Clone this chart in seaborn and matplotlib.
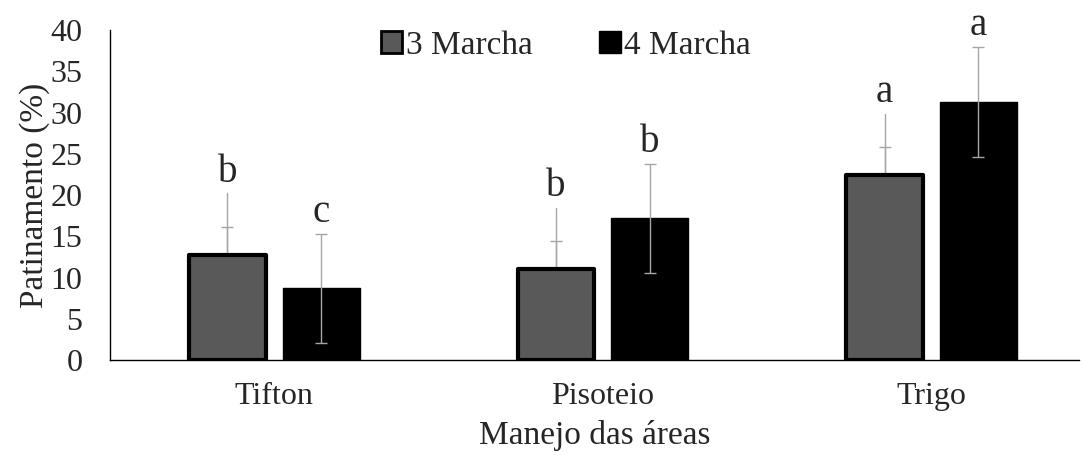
import matplotlib
matplotlib.use("Agg")
import matplotlib.pyplot as plt
import numpy as np
import pandas as pd
import seaborn as sns

categories = ["Tifton", "Pisoteio", "Trigo"]
series = ["3 Marcha", "4 Marcha"]
mean_3 = [12.7, 11.1, 22.4]
mean_4 = [8.7, 17.2, 31.3]
err_3 = [3.4, 3.4, 3.45]
err_4 = [6.6, 6.6, 6.65]
leader_3 = [20.2, 18.5, 29.8]
letters_3 = ["b", "b", "a"]
letters_4 = ["c", "b", "a"]

df = pd.DataFrame({
    "area": categories * 2,
    "marcha": [series[0]] * 3 + [series[1]] * 3,
    "val": mean_3 + mean_4,
})

sns.set_style("white")
plt.rcParams["font.family"] = ["Liberation Serif", "DejaVu Serif"]

fig = plt.figure(figsize=(10.83, 4.57), dpi=100)
ax = fig.add_axes([0.1016, 0.212, 0.895, 0.722])

sns.barplot(data=df, x="area", y="val", hue="marcha", order=categories,
            hue_order=series, palette=["#595959", "#000000"], width=0.57,
            gap=0.18, errorbar=None, ax=ax, zorder=2)

bars = ax.patches[:6]
for i, p in enumerate(bars):
    p.set_edgecolor("black")
    p.set_linewidth(3.0 if i < 3 else 1.0)
    p.set_joinstyle("round")

ecol = "#a6a6a6"
xs3 = [p.get_x() + p.get_width() / 2 for p in bars[:3]]
xs4 = [p.get_x() + p.get_width() / 2 for p in bars[3:6]]

# gray series: error bar sits behind the bar, leader line runs up to the letter
ax.errorbar(xs3, mean_3, yerr=err_3, fmt="none", ecolor=ecol,
            elinewidth=1.0, capsize=4.5, capthick=1.0, zorder=1)
for x, m, top, lt in zip(xs3, mean_3, leader_3, letters_3):
    ax.plot([x, x], [m, top], color=ecol, lw=1.0, zorder=1)
    ax.text(x, top + 2.6, lt, ha="center", va="center", fontsize=28, clip_on=False)

ax.errorbar(xs4, mean_4, yerr=err_4, fmt="none", ecolor=ecol,
            elinewidth=1.0, capsize=4.5, capthick=1.0, zorder=3)
for x, m, e, lt in zip(xs4, mean_4, err_4, letters_4):
    ax.text(x, m + e + 2.6, lt, ha="center", va="center", fontsize=28, clip_on=False)

ax.set_ylim(0, 40)
ax.set_xlim(-0.5, 2.45)
ax.set_yticks(range(0, 41, 5))
ax.tick_params(axis="x", length=0, labelsize=23, pad=16)
ax.tick_params(axis="y", length=0, labelsize=23, pad=20)
for s in ["top", "right"]:
    ax.spines[s].set_visible(False)
for s in ["left", "bottom"]:
    ax.spines[s].set_color("black")
    ax.spines[s].set_linewidth(1.0)

ax.set_xlabel("Manejo das áreas", fontsize=24, labelpad=6)
ax.set_ylabel("Patinamento (%)", fontsize=24, labelpad=0)

leg = ax.legend(loc="upper center", bbox_to_anchor=(0.47, 1.04), ncol=2, frameon=False,
                fontsize=24, handlelength=0.65, handleheight=0.65, handletextpad=0.1,
                columnspacing=2.0, borderaxespad=0)
for h, lw in zip(leg.legend_handles, [2.0, 1.0]):
    h.set_edgecolor("black")
    h.set_linewidth(lw)

fig.savefig("out.png", dpi=100)
